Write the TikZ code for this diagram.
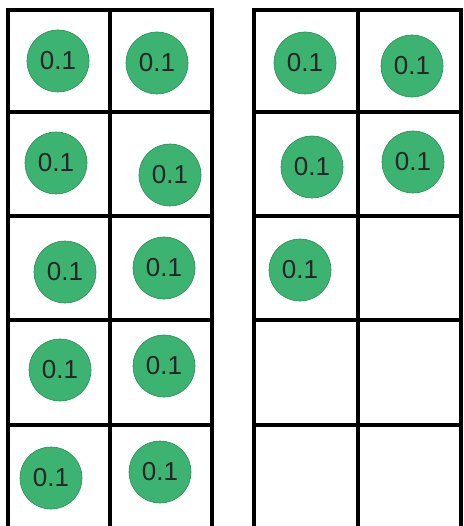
\documentclass[tikz,border=0pt]{standalone}
\usepackage{fontspec}
\setmainfont{Liberation Sans}
\usepackage{tikz}

\definecolor{counter}{RGB}{60,179,113}
\definecolor{counteredge}{RGB}{40,140,85}

\tikzset{
  tenth/.style={circle,fill=counter,draw=counteredge,line width=0.6pt,
    minimum size=62pt,inner sep=0pt,font=\fontsize{26}{30}\selectfont,text=black!85},
  frameline/.style={line width=4pt,line cap=rect}
}

\begin{document}
\begin{tikzpicture}[x=1pt,y=-1pt]
  \useasboundingbox[fill=white] (0,0) rectangle (463,526);
  \clip (0,0) rectangle (463,526);
  % left frame
  \draw[frameline] (8,10) rectangle (212,529);
  \draw[frameline] (110,10) -- (110,529);
  \draw[frameline] (8,112) -- (212,112);
  \draw[frameline] (8,216) -- (212,216);
  \draw[frameline] (8,320) -- (212,320);
  \draw[frameline] (8,425) -- (212,425);
  % right frame
  \draw[frameline] (254,10) rectangle (461,529);
  \draw[frameline] (358,10) -- (358,529);
  \draw[frameline] (254,112) -- (461,112);
  \draw[frameline] (254,216) -- (461,216);
  \draw[frameline] (254,320) -- (461,320);
  \draw[frameline] (254,425) -- (461,425);
  % counters, left frame
  \node[tenth] (la) at (58,61) {0.1};
  \node[tenth] (lb) at (157,63) {0.1};
  \node[tenth] (lc) at (56,163) {0.1};
  \node[tenth] (ld) at (170,175) {0.1};
  \node[tenth] (le) at (65,272) {0.1};
  \node[tenth] (lf) at (164,268) {0.1};
  \node[tenth] (lg) at (60,370) {0.1};
  \node[tenth] (lh) at (164,366) {0.1};
  \node[tenth] (li) at (51,478) {0.1};
  \node[tenth] (lj) at (160,472) {0.1};
  % counters, right frame
  \node[tenth] (ra) at (305,63) {0.1};
  \node[tenth] (rb) at (412,66) {0.1};
  \node[tenth] (rc) at (312,167) {0.1};
  \node[tenth] (rd) at (413,162) {0.1};
  \node[tenth] (re) at (300,270) {0.1};
\end{tikzpicture}
\end{document}
